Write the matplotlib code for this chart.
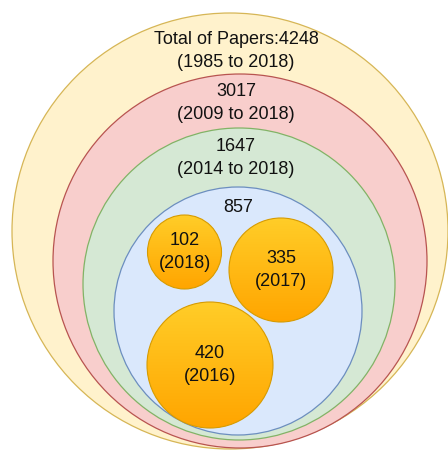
import numpy as np
import matplotlib.pyplot as plt
from matplotlib.patches import Circle
from matplotlib.colors import LinearSegmentedColormap

# paper counts, nested from outside in
ring_counts = [4248, 3017, 1647, 857]
ring_labels = ['Total of Papers:4248\n(1985 to 2018)', '3017\n(2009 to 2018)',
               '1647\n(2014 to 2018)', '857']
year_counts = [102, 335, 420]
year_labels = ['2018', '2017', '2016']

# layout in pixels (x, y, r) and label y
ring_geom = [(230, 231, 218), (240, 261, 187), (239, 284, 156), (238, 311, 124)]
ring_text_y = [51, 103, 158, 208]
ring_fill = ['#fff2cc', '#f8cecc', '#d5e8d4', '#dae8fc']
ring_edge = ['#d6b656', '#b85450', '#82b366', '#6c8ebf']
bubble_geom = [(184.5, 252, 37), (281, 270, 52), (210, 365, 63)]

fig = plt.figure(figsize=(4.48, 4.53), dpi=100)
ax = fig.add_axes([0, 0, 1, 1])
ax.set_xlim(0, 448)
ax.set_ylim(453, 0)
ax.set_aspect('equal')
ax.axis('off')

plt.rcParams['font.family'] = ['Liberation Sans', 'DejaVu Sans']
fs = 13

for i in range(len(ring_counts)):
    x, y, r = ring_geom[i]
    ax.add_patch(Circle((x, y), r, facecolor=ring_fill[i], edgecolor=ring_edge[i], lw=0.9))
    ax.text(ring_geom[i][0] if i == 3 else 236, ring_text_y[i], ring_labels[i],
            ha='center', va='center', fontsize=fs, linespacing=1.4, color='#111111')

cmap = LinearSegmentedColormap.from_list('orng', ['#ffcd28', '#ffa500'])
grad = np.linspace(0, 1, 100).reshape(-1, 1)
for i in range(len(year_counts)):
    x, y, r = bubble_geom[i]
    c = Circle((x, y), r, facecolor='none', edgecolor='#d79b00', lw=0.8, zorder=3)
    ax.add_patch(c)
    im = ax.imshow(grad, cmap=cmap, extent=(x - r, x + r, y + r, y - r),
                   aspect='auto', zorder=2, interpolation='bilinear')
    im.set_clip_path(c)
    ax.text(x, y, '%d\n(%s)' % (year_counts[i], year_labels[i]), ha='center', va='center',
            fontsize=fs, linespacing=1.4, color='#111111', zorder=4)

ax.set_xlim(0, 448)
ax.set_ylim(453, 0)
fig.savefig('out.png', dpi=100)
